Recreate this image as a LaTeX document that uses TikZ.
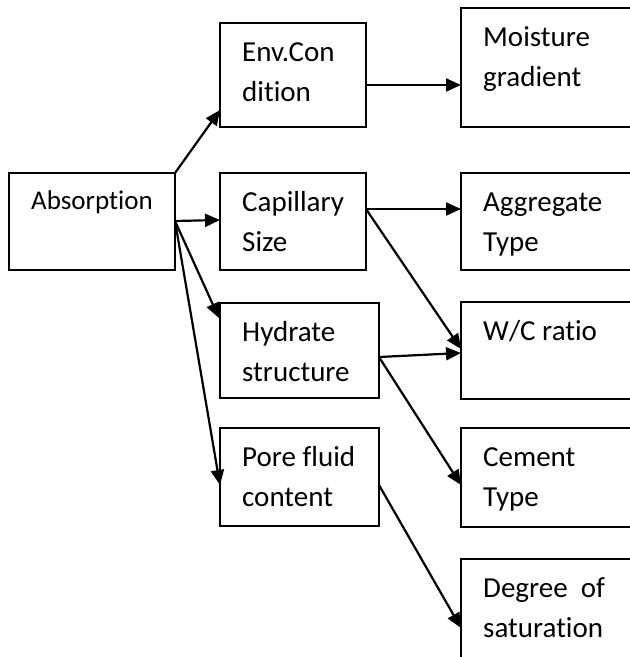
\documentclass[tikz,border=0pt]{standalone}
\usepackage{fontspec}
\setmainfont{Carlito}[Ligatures=CommonOff]
\usetikzlibrary{arrows.meta}
\begin{document}
\begin{tikzpicture}[x=1pt,y=-1pt,
  box/.style={draw,line width=1.8pt,rectangle,inner sep=0pt,outer sep=0pt,anchor=north west},
  lbl/.style={anchor=north west,inner sep=0pt,align=left,font=\fontsize{29}{40}\selectfont},
  conn/.style={line width=2.2pt,-{Triangle[length=15pt,width=13pt]}}]
\useasboundingbox (0,0) rectangle (630,657);
\clip (0,0) rectangle (630,657);
% left column
\node[box,minimum width=166pt,minimum height=97pt] (abs) at (9,173) {};
\node[box,minimum width=146pt,minimum height=104pt] (env) at (220,23) {};
\node[box,minimum width=146pt,minimum height=97pt] (cap) at (220,173) {};
\node[box,minimum width=159pt,minimum height=95pt] (hyd) at (220,303) {};
\node[box,minimum width=159pt,minimum height=98pt] (pore) at (220,428) {};
% right column
\node[box,minimum width=200pt,minimum height=119pt] (moist) at (461,8) {};
\node[box,minimum width=200pt,minimum height=97pt] (agg) at (461,173) {};
\node[box,minimum width=200pt,minimum height=97pt] (wc) at (461,302) {};
\node[box,minimum width=200pt,minimum height=99pt] (cem) at (461,428) {};
\node[box,minimum width=200pt,minimum height=130pt] (deg) at (461,559) {};
% labels
\node[lbl,font=\fontsize{27}{40}\selectfont] (absT) at ([shift={(22,8)}]abs.north west) {\strut Absorption};
\node[lbl] (envT) at ([shift={(22,10)}]env.north west) {\strut Env.Con\\dition};
\node[lbl] (capT) at ([shift={(22,10)}]cap.north west) {\strut Capillary\\Size};
\node[lbl] (hydT) at ([shift={(22,10)}]hyd.north west) {\strut Hydrate\\structure};
\node[lbl] (poreT) at ([shift={(22,10)}]pore.north west) {\strut Pore fluid\\content};
\node[lbl] (moistT) at ([shift={(22,10)}]moist.north west) {\strut Moisture\\gradient};
\node[lbl] (aggT) at ([shift={(22,10)}]agg.north west) {\strut Aggregate\\Type};
\node[lbl] (wcT) at ([shift={(22,10)}]wc.north west) {\strut W/C ratio};
\node[lbl] (cemT) at ([shift={(22,10)}]cem.north west) {\strut Cement\\Type};
\node[lbl] (degT) at ([shift={(22,10)}]deg.north west) {\strut Degree\ \ of\\saturation};
% connectors
\draw[conn] (abs.north east) -- ([shift={(0,87)}]env.north west);
\draw[conn] ([shift={(0,48)}]abs.north east) -- ([shift={(0,47)}]cap.north west);
\draw[conn] ([shift={(0,48)}]abs.north east) -- ([shift={(-1,15)}]hyd.north west);
\draw[conn] ([shift={(0,48)}]abs.north east) -- ([shift={(0,57)}]pore.north west);
\draw[conn] ([shift={(0,62)}]env.north east) -- ([shift={(0,77)}]moist.north west);
\draw[conn] ([shift={(0,36)}]cap.north east) -- ([shift={(0,36)}]agg.north west);
\draw[conn] ([shift={(0,36)}]cap.north east) -- ([shift={(0,47)}]wc.north west);
\draw[conn] ([shift={(0,54)}]hyd.north east) -- ([shift={(0,51)}]wc.north west);
\draw[conn] ([shift={(0,54)}]hyd.north east) -- ([shift={(0,57)}]cem.north west);
\draw[conn] ([shift={(0,57)}]pore.north east) -- ([shift={(0,69)}]deg.north west);
\end{tikzpicture}
\end{document}
